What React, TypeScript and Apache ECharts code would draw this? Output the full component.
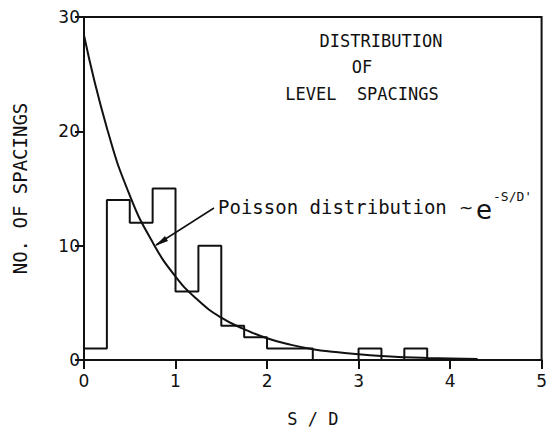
import React, { useEffect, useRef } from "react";
import * as echarts from "echarts";

// Histogram: bin start (S/D) and counts per bin of width 0.25
const binStarts = [0, 0.25, 0.5, 0.75, 1.0, 1.25, 1.5, 1.75, 2.0, 2.25, 2.5, 2.75, 3.0, 3.25, 3.5];
const binCounts = [1, 14, 12, 15, 6, 10, 3, 2, 1, 1, 0, 0, 1, 0, 1];
const binWidth = 0.25;

// Poisson curve values
const curveX = [0, 0.25, 0.5, 0.75, 1.0, 1.25, 1.5, 1.75, 2.0, 2.25, 2.5, 2.75, 3.0, 3.25, 3.5, 3.75, 4.0, 4.3];
const curveY = [28.4, 20.3, 14.4, 10.3, 7.3, 5.2, 3.7, 2.7, 1.9, 1.35, 0.95, 0.7, 0.5, 0.35, 0.25, 0.18, 0.13, 0.09];

const xTicks = [0, 1, 2, 3, 4, 5];
const yTicks = [0, 10, 20, 30];

export default function App() {
  const ref = useRef<HTMLDivElement>(null);
  useEffect(() => {
    if (!ref.current) return;
    const chart = echarts.init(ref.current, null, { renderer: "svg" });
    const histData: number[][] = [[binStarts[0], 0]];
    binStarts.forEach((s, i) => histData.push([s, binCounts[i]]));
    histData.push([binStarts[binStarts.length - 1] + binWidth, 0]);
    const curveData = curveX.map((x, i) => [x, curveY[i]]);
    const mono = "DejaVu Sans Mono";
    chart.setOption({
      animation: false,
      backgroundColor: "#fff",
      grid: {
        left: 84,
        right: 6,
        top: 17,
        bottom: 69,
        show: true,
        borderColor: "#111",
        borderWidth: 2,
      },
      xAxis: {
        type: "value",
        min: xTicks[0],
        max: xTicks[xTicks.length - 1],
        interval: 1,
        name: "S / D",
        nameLocation: "middle",
        nameGap: 50,
        nameTextStyle: { fontFamily: mono, fontSize: 17, color: "#111" },
        axisLine: { show: true, lineStyle: { color: "#111", width: 2 } },
        axisTick: { show: true, length: 9, lineStyle: { color: "#111", width: 2 } },
        axisLabel: { fontFamily: "DejaVu Sans", fontSize: 17, color: "#111", margin: 12 },
        splitLine: { show: false },
      },
      yAxis: {
        type: "value",
        min: yTicks[0],
        max: yTicks[yTicks.length - 1],
        interval: 10,
        name: "NO. OF SPACINGS",
        nameLocation: "middle",
        nameGap: 55,
        nameTextStyle: { fontFamily: mono, fontSize: 19, color: "#111" },
        axisLine: { show: true, lineStyle: { color: "#111", width: 2 } },
        axisTick: { show: true, length: 9, lineStyle: { color: "#111", width: 2 } },
        axisLabel: { fontFamily: "DejaVu Sans", fontSize: 17, color: "#111", margin: 4 },
        splitLine: { show: false },
      },
      series: [
        {
          type: "line",
          data: histData,
          step: "end",
          symbol: "none",
          lineStyle: { color: "#111", width: 2 },
          z: 3,
        },
        {
          type: "line",
          data: curveData,
          smooth: true,
          symbol: "none",
          lineStyle: { color: "#111", width: 2 },
          z: 4,
        },
      ],
      graphic: [
        { type: "text", x: 381, y: 41, style: { text: "DISTRIBUTION", fontFamily: mono, fontSize: 17, fill: "#111", align: "center", verticalAlign: "middle" } },
        { type: "text", x: 362, y: 67, style: { text: "OF", fontFamily: mono, fontSize: 17, fill: "#111", align: "center", verticalAlign: "middle" } },
        { type: "text", x: 362, y: 94, style: { text: "LEVEL  SPACINGS", fontFamily: mono, fontSize: 17, fill: "#111", align: "center", verticalAlign: "middle" } },
        { type: "text", x: 218, y: 207, style: { text: "Poisson distribution", fontFamily: mono, fontSize: 19, fill: "#111", align: "left", verticalAlign: "middle" } },
        { type: "text", x: 459, y: 208, style: { text: "~", fontFamily: "DejaVu Sans", fontSize: 17, fill: "#111", align: "left", verticalAlign: "middle" } },
        { type: "text", x: 476, y: 210, style: { text: "e", fontFamily: "DejaVu Sans", fontSize: 26, fill: "#111", align: "left", verticalAlign: "middle" } },
        { type: "text", x: 493, y: 196, style: { text: "-S/D'", fontFamily: mono, fontSize: 13, fill: "#111", align: "left", verticalAlign: "middle" } },
        { type: "line", shape: { x1: 214, y1: 208, x2: 156, y2: 245 }, style: { stroke: "#111", lineWidth: 1.5 } },
        { type: "polygon", shape: { points: [[155, 246], [165, 236], [168, 241]] }, style: { fill: "#111" } },
      ],
    });
    return () => chart.dispose();
  }, []);
  return <div ref={ref} style={{ width: 550, height: 432, position: "absolute", left: 0, top: 0 }} />;
}
